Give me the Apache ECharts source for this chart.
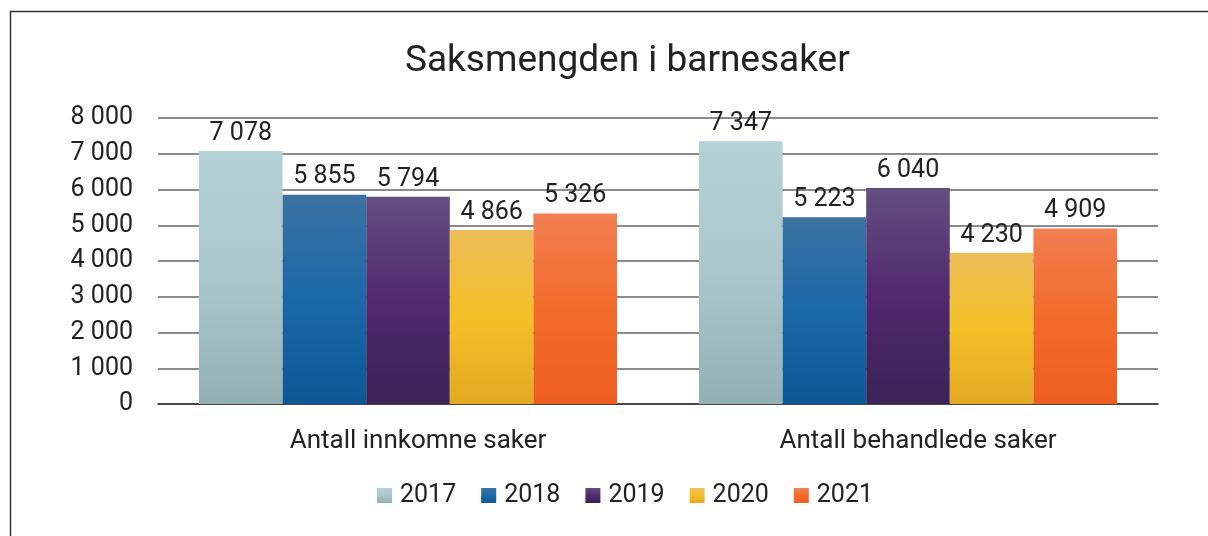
<!DOCTYPE html>
<html>
<head>
<meta charset="utf-8">
<style>
  html, body { margin: 0; padding: 0; background: #fff; }
  #chart { width: 1208px; height: 536px; }
</style>
<script src="https://cdn.jsdelivr.net/npm/echarts@6/dist/echarts.min.js"></script>
</head>
<body>
<div id="chart"></div>
<script>
var categories = ['Antall innkomne saker', 'Antall behandlede saker'];
var years = ['2017', '2018', '2019', '2020', '2021'];
var values2017 = [7078, 7347];
var values2018 = [5855, 5223];
var values2019 = [5794, 6040];
var values2020 = [4866, 4230];
var values2021 = [5326, 4909];
var yTicks = [0, 1000, 2000, 3000, 4000, 5000, 6000, 7000, 8000];

var seriesValues = [values2017, values2018, values2019, values2020, values2021];
var gradients = [
  ['#b6d1d5', '#abc7cb', '#95b0b5'],
  ['#3b72a2', '#1b68a8', '#0e5795'],
  ['#634f80', '#52286f', '#3a2257'],
  ['#ecbd58', '#f4c027', '#e2a922'],
  ['#f27e52', '#f26b2a', '#ee5d20']
];

function fmt(v) {
  return String(v).replace(/\B(?=(\d{3})+(?!\d))/g, ' ');
}

var chart = echarts.init(document.getElementById('chart'));

var series = [];
for (var i = 0; i < years.length; i++) {
  var g = gradients[i];
  series.push({
    name: years[i],
    type: 'bar',
    barGap: '0%',
    barCategoryGap: '16.4%',
    data: seriesValues[i],
    itemStyle: {
      color: new echarts.graphic.LinearGradient(0, 0, 0, 1, [
        { offset: 0, color: g[0] },
        { offset: 0.5, color: g[1] },
        { offset: 1, color: g[2] }
      ])
    },
    label: {
      show: true,
      position: 'top',
      distance: 5,
      fontFamily: 'Roboto',
      fontSize: 25,
      color: '#222',
      formatter: function (p) { return fmt(p.value); }
    }
  });
}

chart.setOption({
  animation: false,
  textStyle: { fontFamily: 'Roboto' },
  title: {
    text: 'Saksmengden i barnesaker',
    left: 400,
    top: 38,
    textStyle: { fontFamily: 'Roboto', fontSize: 37, fontWeight: 'normal', color: '#222' }
  },
  graphic: [{
    type: 'rect',
    shape: { x: 10.5, y: 11.5, width: 1400, height: 700 },
    style: { fill: 'none', stroke: '#333', lineWidth: 1.5 },
    silent: true
  }],
  legend: {
    data: years,
    bottom: 23,
    left: 372,
    itemWidth: 15,
    itemHeight: 15,
    itemGap: 25,
    icon: 'rect',
    textStyle: { fontFamily: 'Roboto', fontSize: 25, color: '#222', padding: [0, 0, 0, 3] }
  },
  grid: { left: 158, right: 50, top: 118, height: 286, containLabel: false },
  xAxis: {
    type: 'category',
    data: categories,
    axisTick: { show: false },
    axisLine: { lineStyle: { color: '#333', width: 1.5 } },
    axisLabel: {
      fontFamily: 'Roboto', fontSize: 26, color: '#222', margin: 24,
      padding: [0, 0, 0, 20]
    }
  },
  yAxis: {
    type: 'value',
    min: yTicks[0],
    max: yTicks[yTicks.length - 1],
    interval: 1000,
    axisLine: { show: false },
    axisTick: { show: false },
    splitLine: { lineStyle: { color: '#666', width: 1.5 } },
    axisLabel: {
      fontFamily: 'Roboto', fontSize: 25, color: '#222', margin: 25,
      formatter: function (v) { return fmt(v); }
    }
  },
  series: series
});
</script>
</body>
</html>
